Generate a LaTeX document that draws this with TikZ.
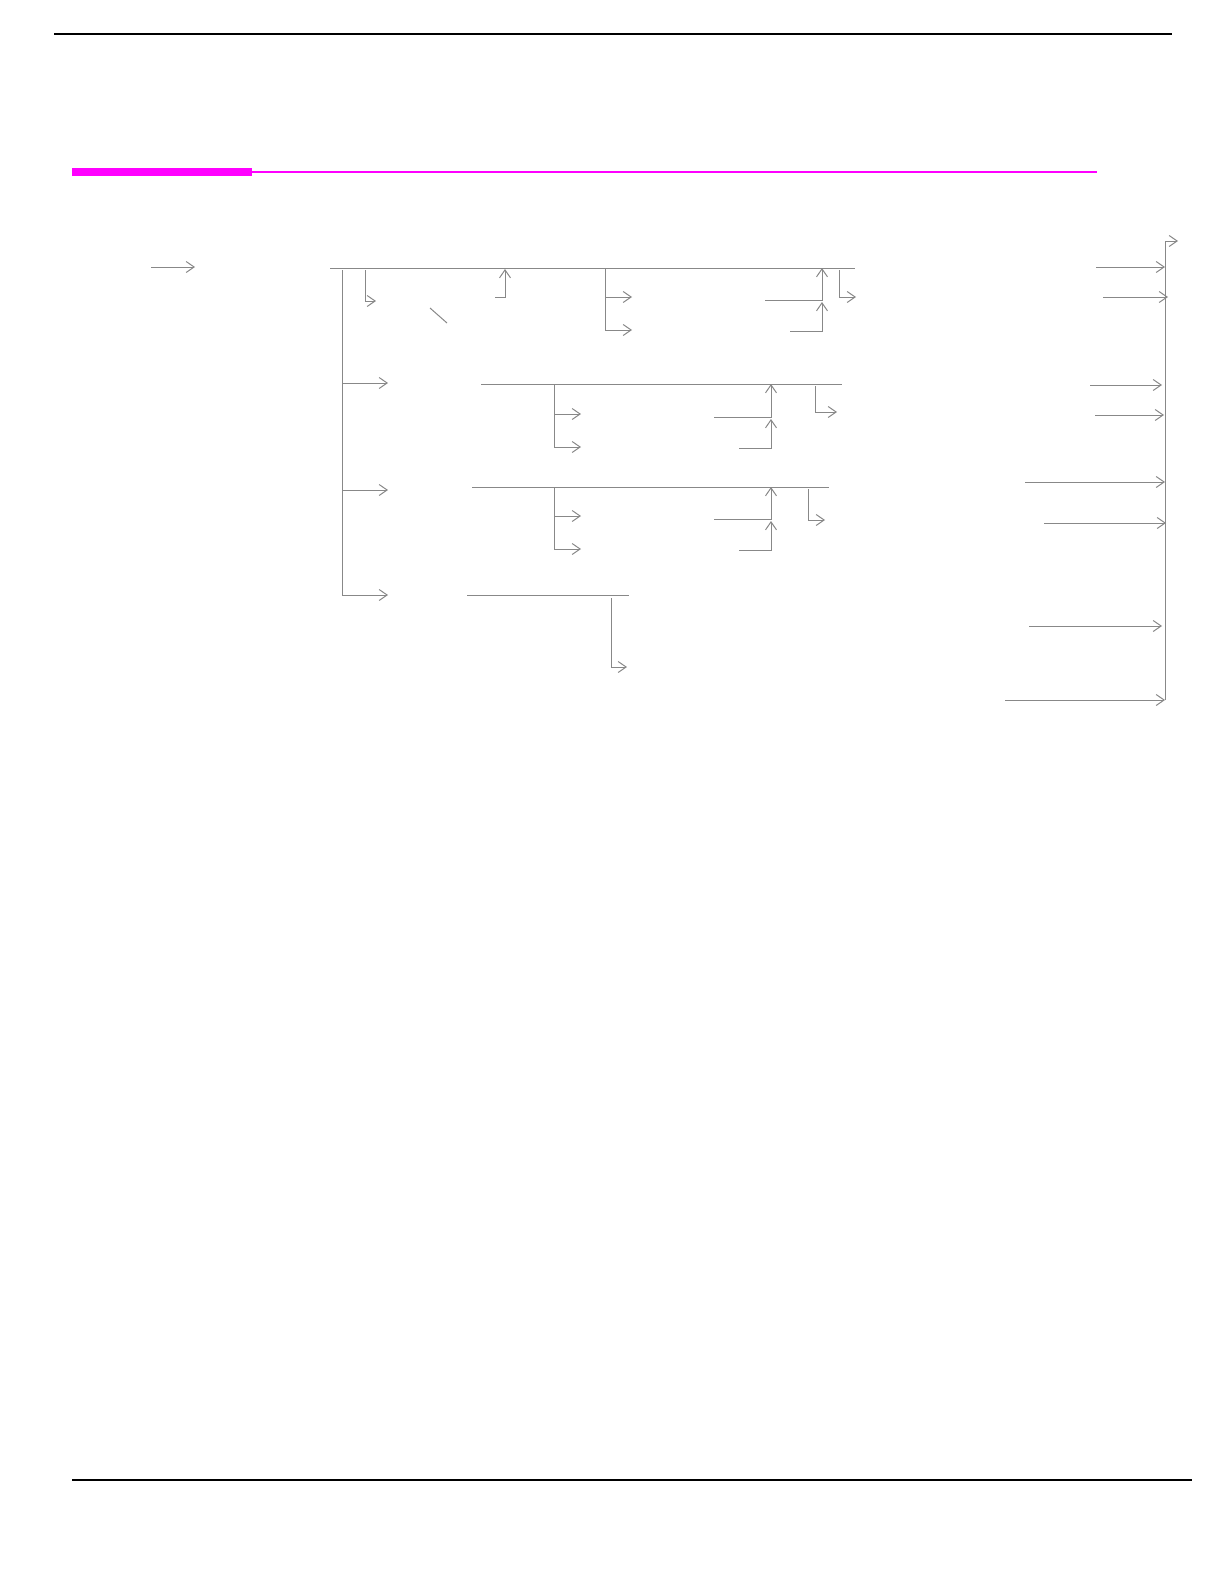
\documentclass[tikz,border=0pt]{standalone}
\usepackage{tikz}
\usepackage{xcolor}
\usetikzlibrary{arrows.meta}
\usetikzlibrary{positioning}

\definecolor{flowgray}{RGB}{136,136,136}
\definecolor{barmagenta}{RGB}{255,0,255}

\tikzset{
	flow/.style={flowgray, line width=1pt},
	flowarrow/.style={flow, -{Straight Barb[length=8pt,width=11pt]}},
	rule/.style={black, line width=1.3pt}
}

\begin{document}
\begin{tikzpicture}[x=1pt, y=-1pt]
		\useasboundingbox (0,0) rectangle (1224,1582);
		
		% page rules
		\draw [rule] (54,34) -- (1172,34);
		\draw [rule] (72,1480) -- (1192,1480);
		\fill [barmagenta] (72,168) rectangle (252,176);
		\draw [barmagenta,line width=2.5pt] (252,172) -- (1097,172);
		
		% buses
		\coordinate (trunk) at (342,270);
		\coordinate (trunkend) at (342,595);
		\coordinate (bus) at (1165,700);
		\coordinate (bustop) at (1165,241);
		\draw [flow] (trunk) -- (trunkend);
		\draw [flowarrow] (bus) -- (bustop) -- (1178,241);
		
		% first row
		\draw [flowarrow] (151,267) -- (195,267);
		\draw [flow] (330,268) -- (855,268);
		\draw [flowarrow] (365,270) -- (365,301) -- (376,301);
		\draw [flow] (430,308) -- (447,323);
		\draw [flowarrow] (495,297) -- (505,297) -- (505,269);
		\draw [flowarrow] (605,268) -- (605,297) -- (632,297);
		\draw [flowarrow] (605,297) -- (605,330) -- (632,330);
		\draw [flowarrow] (765,300) -- (822,300) -- (822,268);
		\draw [flowarrow] (790,331) -- (822,331) -- (822,302);
		\draw [flowarrow] (839,270) -- (839,297) -- (856,297);
		\draw [flowarrow] (1096,267) -- (1165,267);
		\draw [flowarrow] (1103,297) -- (1168,297);
		
		% second row
		\draw [flowarrow] (342,383) -- (388,383);
		\draw [flow] (481,384) -- (842,384);
		\draw [flowarrow] (554,384) -- (554,414) -- (581,414);
		\draw [flowarrow] (554,414) -- (554,447) -- (581,447);
		\draw [flowarrow] (714,417) -- (771,417) -- (771,384);
		\draw [flowarrow] (739,448) -- (771,448) -- (771,419);
		\draw [flowarrow] (815,386) -- (815,412) -- (837,412);
		\draw [flowarrow] (1090,385) -- (1162,385);
		\draw [flowarrow] (1095,415) -- (1164,415);
		
		% third row
		\draw [flowarrow] (342,490) -- (388,490);
		\draw [flow] (472,487) -- (829,487);
		\draw [flowarrow] (554,487) -- (554,516) -- (581,516);
		\draw [flowarrow] (554,516) -- (554,549) -- (581,549);
		\draw [flowarrow] (714,519) -- (771,519) -- (771,487);
		\draw [flowarrow] (739,550) -- (771,550) -- (771,521);
		\draw [flowarrow] (808,489) -- (808,520) -- (825,520);
		\draw [flowarrow] (1025,482) -- (1165,482);
		\draw [flowarrow] (1044,523) -- (1166,523);
		
		% fourth row
		\draw [flowarrow] (342,595) -- (388,595);
		\draw [flow] (467,595) -- (629,595);
		\draw [flowarrow] (611,598) -- (611,667) -- (627,667);
		\draw [flowarrow] (1029,626) -- (1162,626);
		\draw [flowarrow] (1005,700) -- (1165,700);
\end{tikzpicture}
\end{document}
